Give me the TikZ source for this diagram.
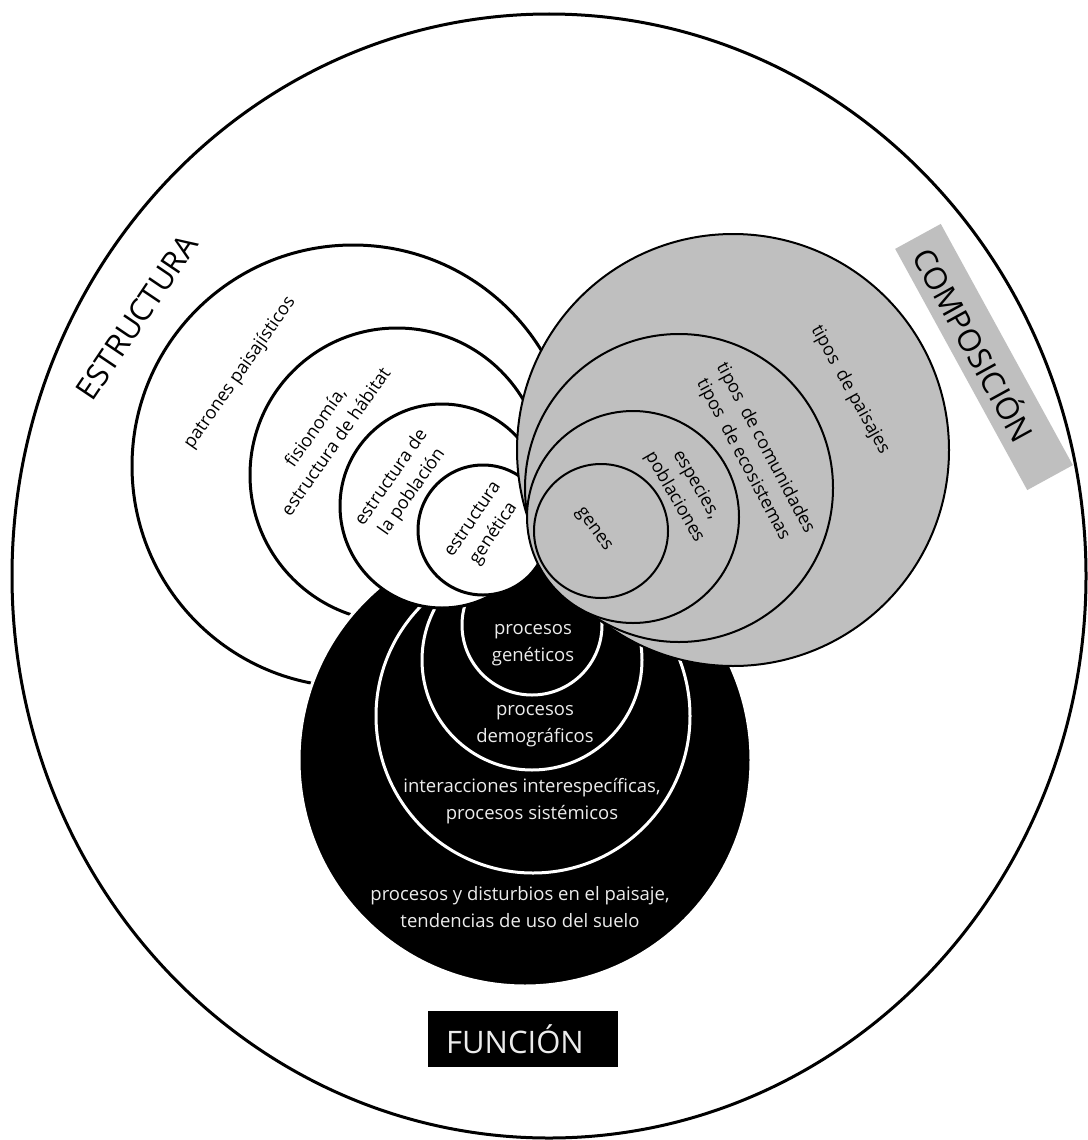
\documentclass[tikz,border=0pt]{standalone}
\usepackage{fontspec}
\setmainfont{Open Sans}
\definecolor{grayfill}{RGB}{191,191,191}
\definecolor{txtwhite}{RGB}{236,236,236}
\begin{document}
\begin{tikzpicture}[x=1pt,y=-1pt,
  wc/.style={fill=white,draw=black,line width=3pt},
  gc/.style={fill=grayfill,draw=black,line width=2pt},
  bc/.style={fill=black,draw=white,line width=3pt},
  dtxt/.style={font=\fontsize{18}{25}\selectfont,align=center,inner sep=0pt,text=black},
  ltxt/.style={font=\fontsize{18.5}{26.5}\selectfont,align=center,inner sep=0pt,text=txtwhite},
  bigtxt/.style={font=\fontsize{31}{36}\selectfont,inner sep=0pt}]
\fill[white] (0,0) rectangle (1087,1140);
\useasboundingbox (0,0) rectangle (1087,1140);
% outer egg
\draw[line width=3pt] (549,576) ellipse[x radius=537,y radius=562];
% structure (white) circles, outer ones
\path[wc] (353,466) circle[radius=221];
\path[wc] (397,475) circle[radius=147];
% function (black) circles
\path[bc] (525,760) circle[radius=226];
\path[bc] (533,716) circle[radius=157];
\path[bc] (532,660) circle[radius=110];
\path[bc] (532,625) circle[radius=70];
% structure inner circles
\path[wc] (442,506) circle[radius=102];
\path[wc] (483,530) circle[radius=65];
% composition (gray) circles
\path[gc] (733,450) circle[radius=216];
\path[gc] (679,488) circle[radius=154];
\path[gc] (633,517) circle[radius=106];
\path[gc] (601,531) circle[radius=67];
% labels
\node[bigtxt,rotate=56] (estr) at (137,317) {ESTRUCTURA};
\node[fill=grayfill,minimum width=275pt,minimum height=52pt,rotate=-61.3] (compbox) at (984,357) {};
\node[bigtxt,rotate=-61.3] (comp) at (976,344) {COMPOSICIÓN};
\node[fill=black,minimum width=190pt,minimum height=56pt,inner sep=0pt] (funbox) at (523,1039) {};
\node[bigtxt,text=txtwhite] (fun) at (515,1039) {FUNCIÓN};
% structure texts
\node[dtxt,rotate=55] (t1) at (240,373) {patrones paisajísticos};
\node[dtxt,rotate=55] (t2) at (325,434) {fisionomía,\\estructura de hábitat};
\node[dtxt,rotate=55] (t3) at (402,485) {estructura de\\la población};
\node[dtxt,rotate=56] (t4) at (484,527) {estructura\\genética};
% composition texts
\node[dtxt,rotate=-61] (c1) at (850,390) {tipos\ \ de paisajes};
\node[dtxt,rotate=-62] (c2) at (754,454) {tipos\ \ de comunidades\\tipos\ \ de ecosistemas};
\node[dtxt,rotate=-60] (c3) at (685,491) {especies,\\poblaciones};
\node[dtxt,rotate=-54] (c4) at (593,530) {genes};
% function texts
\node[ltxt] (f1) at (533,645) {procesos\\genéticos};
\node[ltxt] (f2) at (535,726) {procesos\\demográficos};
\node[ltxt] (f3) at (532,801) {interacciones interespecíficas,\\procesos sistémicos};
\node[ltxt] (f4) at (520,907) {procesos y disturbios en el paisaje,\\tendencias de uso del suelo};
\end{tikzpicture}
\end{document}
